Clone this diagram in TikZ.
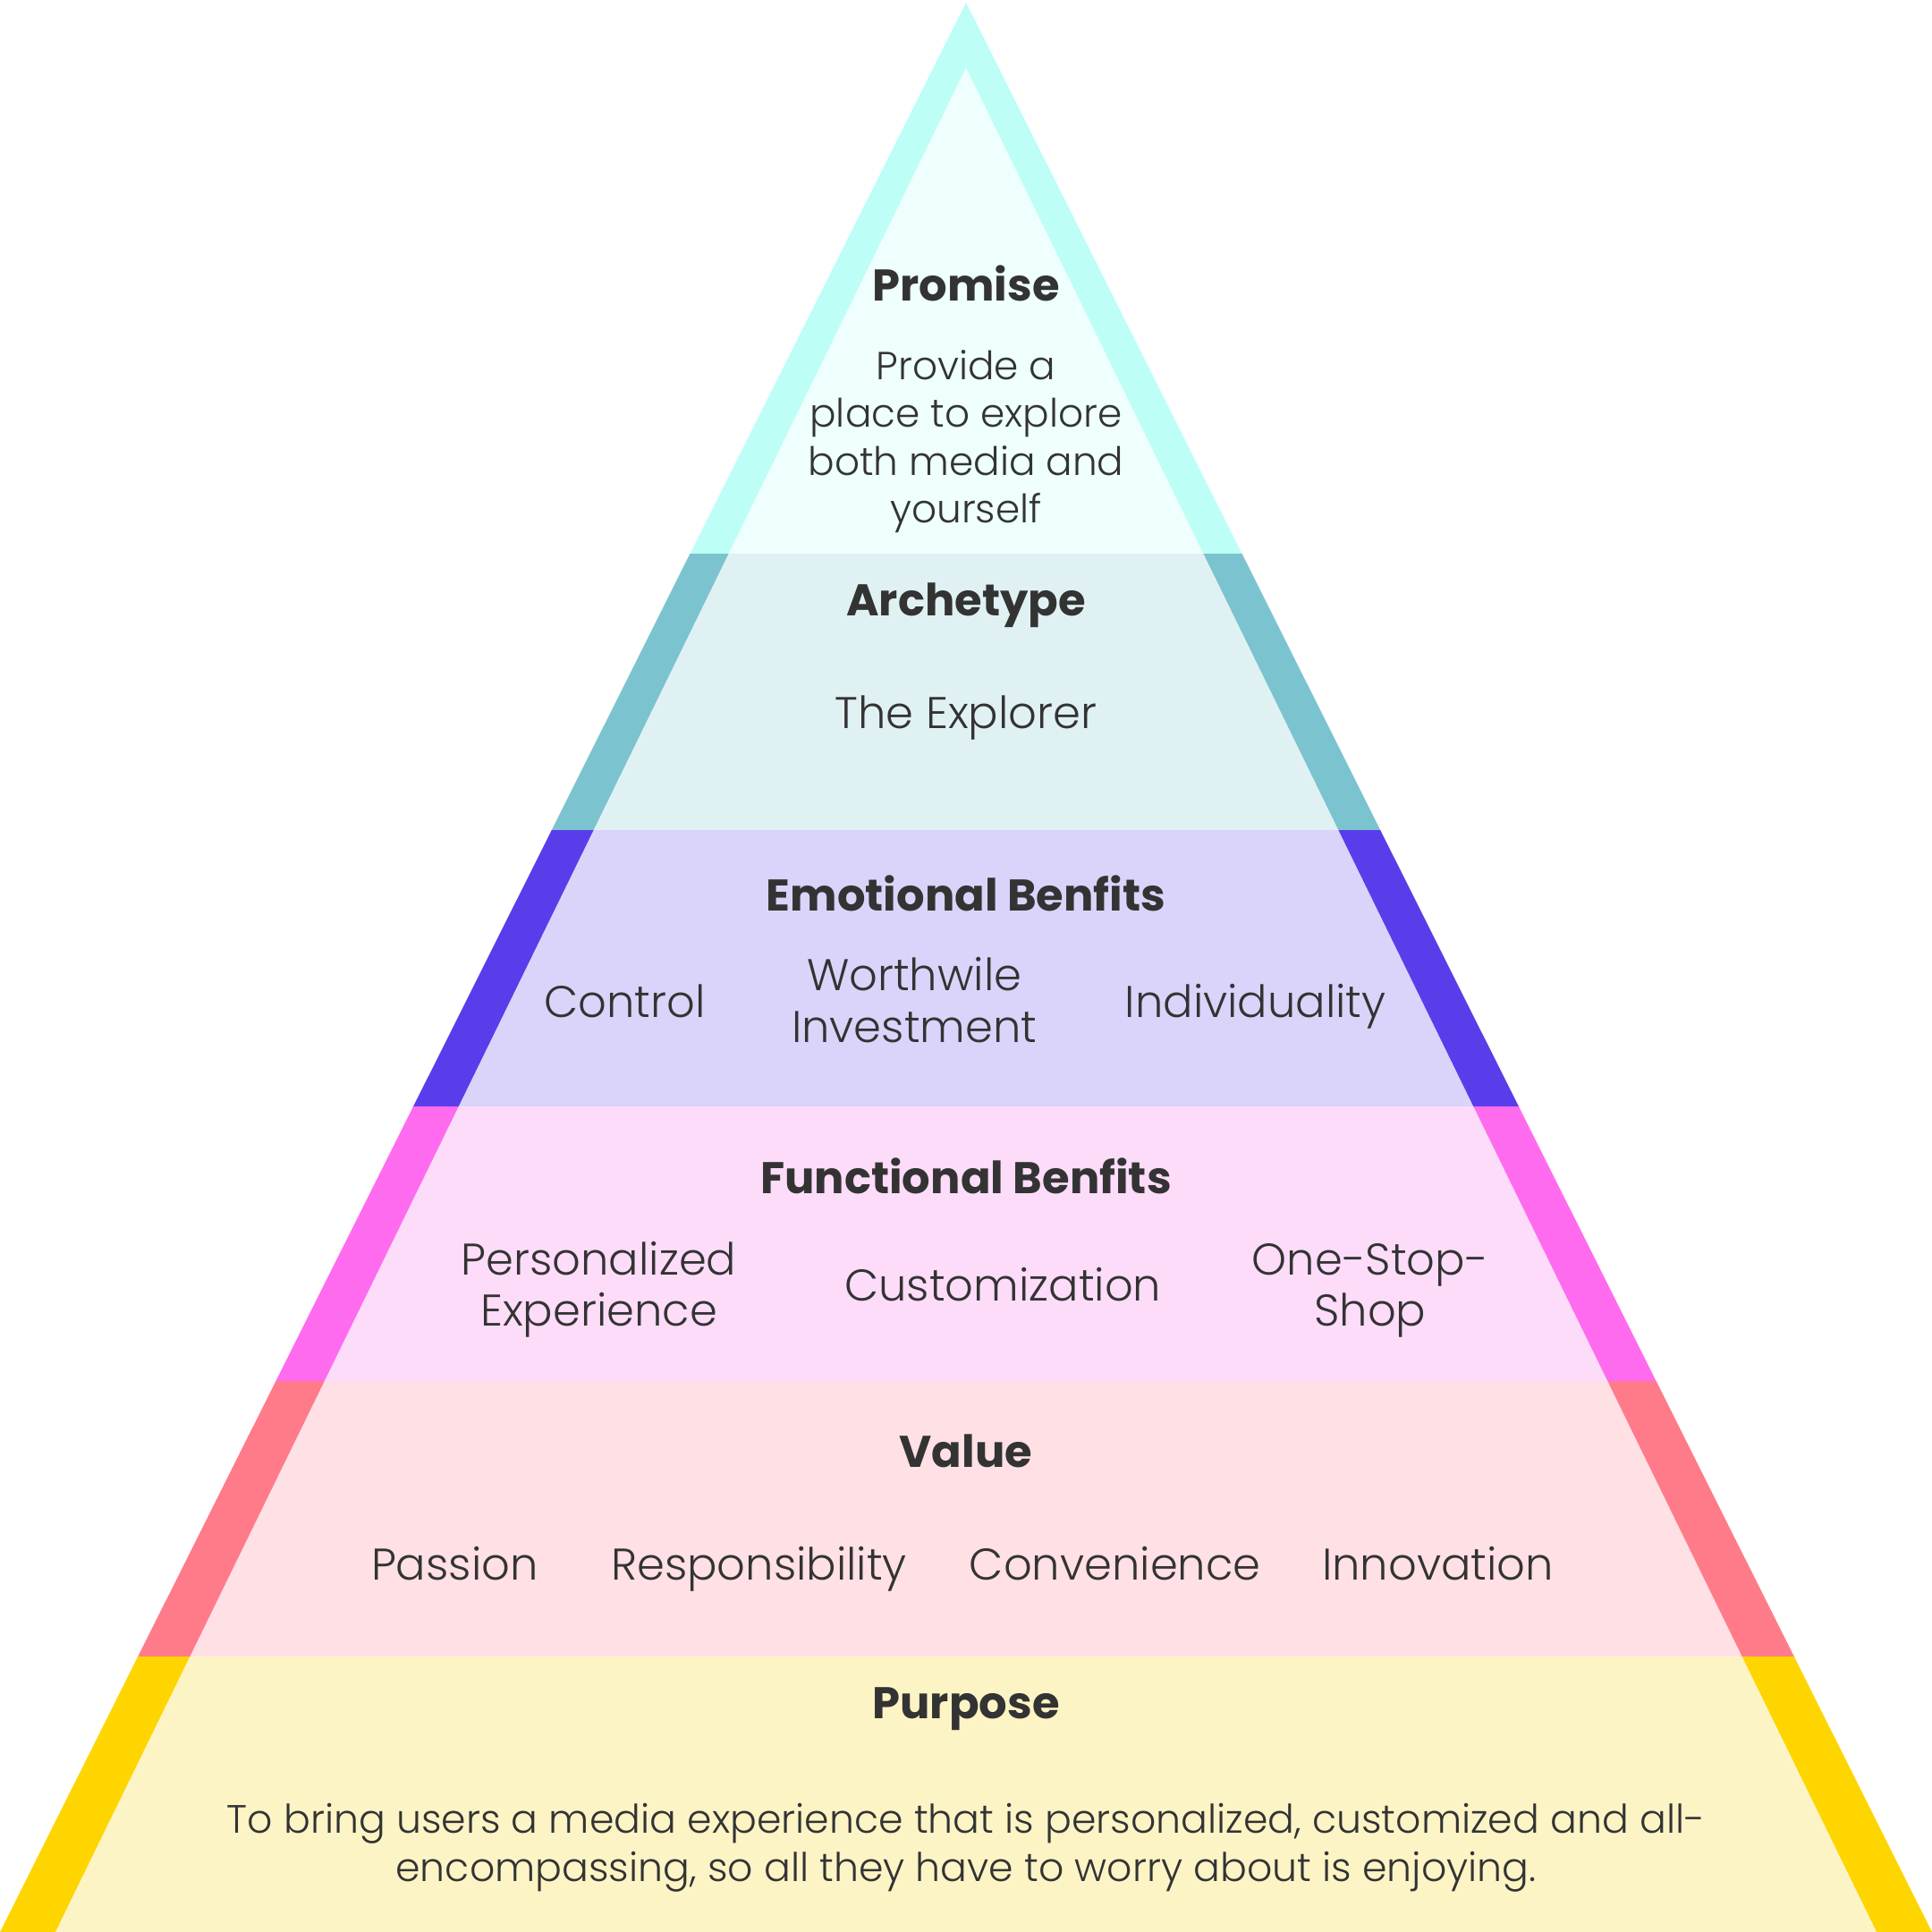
\documentclass[tikz,border=0pt]{standalone}
\usepackage{fontspec}
\setmainfont{Poppins}[UprightFont={* Light},BoldFont={* Bold}]
\definecolor{txt}{HTML}{333333}
\definecolor{oA}{HTML}{BDFEF6}\definecolor{iA}{HTML}{EEFFFD}
\definecolor{oB}{HTML}{7BC3CF}\definecolor{iB}{HTML}{E0F1F4}
\definecolor{oC}{HTML}{5A3DEA}\definecolor{iC}{HTML}{DAD4FA}
\definecolor{oD}{HTML}{FF6BEF}\definecolor{iD}{HTML}{FDDCF9}
\definecolor{oE}{HTML}{FF7B89}\definecolor{iE}{HTML}{FEE0E5}
\definecolor{oF}{HTML}{FFD500}\definecolor{iF}{HTML}{FDF4C6}
\tikzset{
  head/.style={text=txt,font=\fontsize{36}{40}\selectfont\bfseries,align=center,inner sep=0pt,anchor=base},
  body/.style={text=txt,font=\fontsize{36}{42}\selectfont,align=center,inner sep=0pt,anchor=base},
  small/.style={text=txt,font=\fontsize{31.8}{38.8}\selectfont,align=center,inner sep=0pt,anchor=base},
  purp/.style={text=txt,font=\fontsize{32.1}{39}\selectfont,align=center,inner sep=0pt,anchor=base}
}
\newcommand{\band}[4]{%
  \begin{scope}
    \clip (0,#1) rectangle (1568,#2);
    \fill[#3] (784,2) -- (1568,1568) -- (0,1568) -- cycle;
    \fill[#4] (784,55) -- (1523,1568) -- (45,1568) -- cycle;
  \end{scope}}
\begin{document}
\begin{tikzpicture}[x=1pt,y=-1pt]
\useasboundingbox (0,0) rectangle (1568,1568);
\band{0}{450.5}{oA}{iA}
\band{450}{674.5}{oB}{iB}
\band{674}{898.5}{oC}{iC}
\band{898}{1121.5}{oD}{iD}
\band{1121}{1345.5}{oE}{iE}
\band{1345}{1568}{oF}{iF}
% Promise (multi-line nodes are placed by the baseline of their last line)
\node[head] (promise) at (784,244) {Promise};
\node[small] (promisetxt) at (784,424.4) {Provide a\\place to explore\\both media and\\yourself};
% Archetype
\node[head] (arch) at (784,500) {Archetype};
\node[body] (explorer) at (784,591) {The Explorer};
% Emotional
\node[head] (emo) at (784,739) {Emotional Benfits};
\node[body] (control) at (507,826) {Control};
\node[body] (worth) at (742,846) {Worthwile\\Investment};
\node[body] (indiv) at (1019,826) {Individuality};
% Functional
\node[head] (func) at (784,969) {Functional Benfits};
\node[body] (pers) at (486,1076.5) {Personalized\\Experience};
\node[body] (custom) at (814,1056) {Customization};
\node[body] (onestop) at (1112,1076.5) {One-Stop-\\Shop};
% Value
\node[head] (value) at (784,1191) {Value};
\node[body] (passion) at (369,1282) {Passion};
\node[body] (resp) at (616,1282) {Responsibility};
\node[body] (conv) at (905,1282) {Convenience};
\node[body] (innov) at (1167,1282) {Innovation};
% Purpose
\node[head] (purpose) at (784,1395) {Purpose};
\node[purp] (purposetxt) at (784,1527) {To bring users a media experience that is personalized, customized and all-\\encompassing, so all they have to worry about is enjoying.};
\end{tikzpicture}
\end{document}
